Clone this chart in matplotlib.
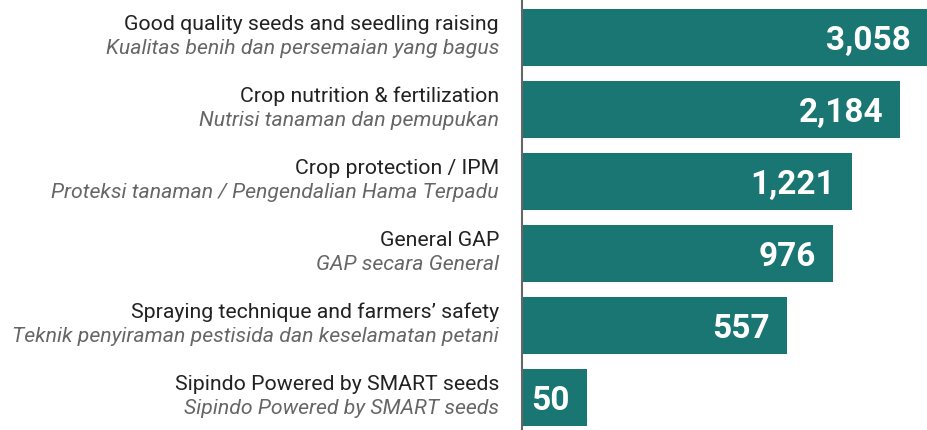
import matplotlib
matplotlib.use("Agg")
import matplotlib.pyplot as plt

labels_en = [
    "Good quality seeds and seedling raising",
    "Crop nutrition & fertilization",
    "Crop protection / IPM",
    "General GAP",
    "Spraying technique and farmers\u2019 safety",
    "Sipindo Powered by SMART seeds",
]
labels_id = [
    "Kualitas benih dan persemaian yang bagus",
    "Nutrisi tanaman dan pemupukan",
    "Proteksi tanaman / Pengendalian Hama Terpadu",
    "GAP secara General",
    "Teknik penyiraman pestisida dan keselamatan petani",
    "Sipindo Powered by SMART seeds",
]
counts = [3058, 2184, 1221, 976, 557, 50]

plt.rcParams["font.family"] = ["Roboto", "DejaVu Sans"]

bar_color = "#1a7673"
px = 72 / 100  # points per pixel at dpi 100

fig = plt.figure(figsize=(9.28, 4.30), dpi=100)
ax = fig.add_axes([521.7 / 928, -3.5 / 430, 406.3 / 928, 432 / 430])

y = list(range(len(counts)))
ax.barh(y, counts, height=0.79, color=bar_color, left=0)
ax.set_xscale("log")
ax.set_xlim(22.8, 3060)
ax.set_ylim(len(counts) - 0.5, -0.5)

for i, v in enumerate(counts):
    ax.annotate(f"{v:,}", xy=(v, i), xytext=(-17 * px, -12.5 * px),
                textcoords="offset points", ha="right", va="baseline",
                color="white", fontsize=24, fontweight="bold")
    # english label above, indonesian (italic) below
    ax.annotate(labels_en[i], xy=(0, i), xycoords=("axes fraction", "data"),
                xytext=(-22.7 * px, 7.5 * px), textcoords="offset points",
                ha="right", va="baseline", color="#222222", fontsize=15.3,
                annotation_clip=False)
    ax.annotate(labels_id[i], xy=(0, i), xycoords=("axes fraction", "data"),
                xytext=(-22.7 * px, -17 * px), textcoords="offset points",
                ha="right", va="baseline", color="#666666", fontsize=15.3,
                style="italic", annotation_clip=False)

for s in ["top", "right", "bottom"]:
    ax.spines[s].set_visible(False)
ax.spines["left"].set_color("#666666")
ax.spines["left"].set_linewidth(1.5)
ax.set_xticks([])
ax.set_xticks([], minor=True)
ax.set_yticks([])
ax.patch.set_alpha(0)

fig.savefig("out.png", dpi=100)
